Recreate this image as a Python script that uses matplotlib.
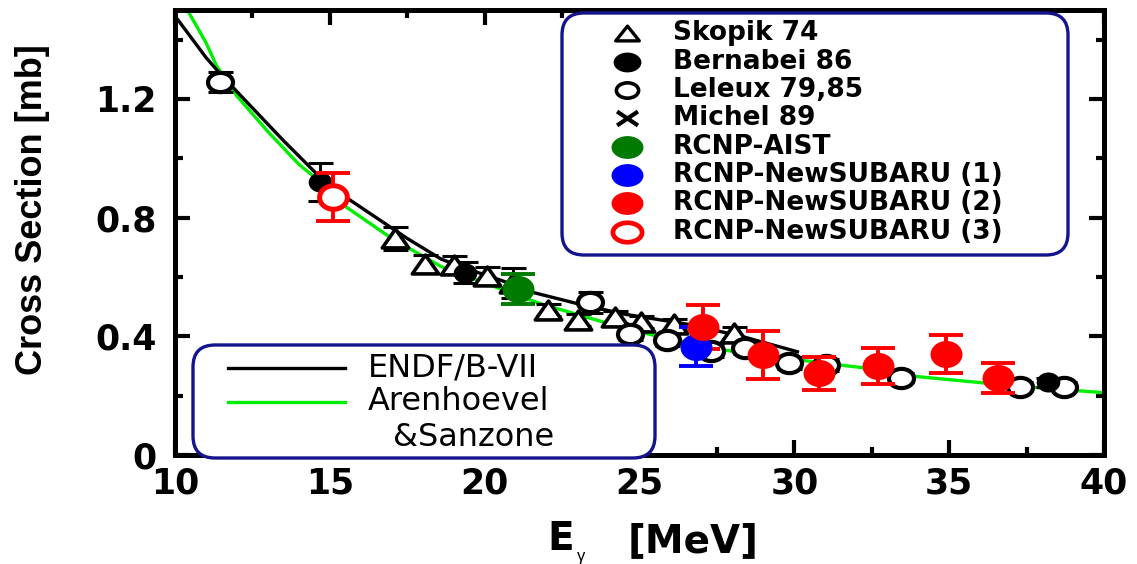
import matplotlib
matplotlib.use("Agg")
import matplotlib.pyplot as plt
from matplotlib.path import Path
from matplotlib.patches import FancyBboxPatch
from matplotlib.lines import Line2D
from matplotlib.transforms import Affine2D
from matplotlib.ticker import MultipleLocator, FuncFormatter

W, H = 1137, 564

# Evaluated / theoretical cross sections
endf_e = [10.0, 10.5, 11.0, 11.5, 12.5, 13.5, 14.6, 15.5, 16.5, 17.5, 18.6,
          19.5, 20.5, 21.6, 23.0, 24.5, 26.6, 28.3, 30.1]
endf_xs = [1.48, 1.41, 1.34, 1.28, 1.17, 1.06, 0.945, 0.87, 0.80, 0.73, 0.66,
           0.625, 0.59, 0.547, 0.51, 0.475, 0.44, 0.40, 0.348]

arenh_e = [10.4, 11.0, 11.35, 12.0, 13.0, 14.0, 14.5, 15.5, 17.0, 18.6, 20.0,
           21.8, 24.1, 25.4, 27.7, 30.0, 32.3, 34.0, 37.0, 40.0]
arenh_xs = [1.50, 1.39, 1.31, 1.21, 1.09, 0.98, 0.937, 0.838, 0.73, 0.635,
            0.58, 0.51, 0.44, 0.405, 0.354, 0.322, 0.293, 0.264, 0.234, 0.21]

# Measurements: photon energy [MeV], cross section [mb], uncertainty [mb]
skopik_e = [17.1, 18.06, 19.0, 20.06, 20.9, 22.06, 23.03, 24.2, 25.06, 26.1, 28.06]
skopik_xs = [0.73, 0.645, 0.64, 0.605, 0.58, 0.49, 0.455, 0.466, 0.449, 0.44, 0.41]
skopik_err = [0.04, 0.03, 0.03, 0.03, 0.05, 0.02, 0.02, 0.02, 0.02, 0.02, 0.02]

bern_e = [14.68, 19.35, 38.2]
bern_xs = [0.92, 0.615, 0.245]
bern_err = [0.065, 0.035, 0.015]

leleux_e = [11.45, 23.4, 24.7, 25.9, 27.3, 28.4, 29.84, 31.03, 33.45, 37.3, 38.7]
leleux_xs = [1.257, 0.515, 0.407, 0.388, 0.35, 0.362, 0.31, 0.303, 0.26, 0.23, 0.23]
leleux_err = [0.035, 0.035, 0.02, 0.02, 0.02, 0.02, 0.02, 0.02, 0.015, 0.015, 0.015]

aist_e = [21.07]
aist_xs = [0.56]
aist_err = [0.05]

ns1_e = [26.84]
ns1_xs = [0.365]
ns1_err = [0.065]

ns2_e = [27.06, 29.0, 30.8, 32.7, 34.9, 36.58]
ns2_xs = [0.432, 0.337, 0.275, 0.30, 0.34, 0.26]
ns2_err = [0.074, 0.08, 0.055, 0.06, 0.065, 0.05]

ns3_e = [15.1]
ns3_xs = [0.87]
ns3_err = [0.08]

legend_labels = ["Skopik 74", "Bernabei 86", "Leleux 79,85", "Michel 89",
                 "RCNP-AIST", "RCNP-NewSUBARU (1)", "RCNP-NewSUBARU (2)",
                 "RCNP-NewSUBARU (3)"]
curve_labels = ["ENDF/B-VII", "Arenhoevel", "&Sanzone"]

WIDE = ["DejaVu Sans"]
SANS = ["Liberation Sans", "DejaVu Sans"]
NAVY = "#14148c"
LIME = "#00ee00"


def ellipse(ratio):
    return Path.unit_circle().transformed(Affine2D().scale(ratio, 1.0))


def flat_triangle(ratio):
    return Path([(0, 1), (-ratio, -1), (ratio, -1), (0, 1)],
                [Path.MOVETO, Path.LINETO, Path.LINETO, Path.CLOSEPOLY])


def flat_cross(ratio):
    return Path([(-ratio, -1), (ratio, 1), (-ratio, 1), (ratio, -1)],
                [Path.MOVETO, Path.LINETO, Path.MOVETO, Path.LINETO])


fig = plt.figure(figsize=(W / 100, H / 100), dpi=100)
ax = fig.add_axes([175 / W, 1 - 455 / H, (1104 - 175) / W, (455 - 10) / H])
px = Affine2D().scale(1 / W, -1 / H).translate(0, 1) + fig.transFigure

ax.plot(arenh_e, arenh_xs, color=LIME, lw=2.4, zorder=2)
ax.plot(endf_e, endf_xs, color="black", lw=2.4, zorder=2)

tri = flat_triangle(1.4)
ell_open = ellipse(1.3)
ell = ellipse(1.18)

ax.errorbar(skopik_e, skopik_xs, yerr=skopik_err, fmt="none", ecolor="black",
            elinewidth=2.2, capsize=9, capthick=2.2, zorder=3)
ax.plot(skopik_e, skopik_xs, ls="none", marker=tri, ms=19, mfc="white",
        mec="black", mew=2.6, zorder=4)

ax.errorbar(leleux_e, leleux_xs, yerr=leleux_err, fmt="none", ecolor="black",
            elinewidth=2.2, capsize=9, capthick=2.2, zorder=3)
ax.plot(leleux_e, leleux_xs, ls="none", marker=ell_open, ms=18, mfc="white",
        mec="black", mew=3.0, zorder=4)

ax.errorbar(bern_e, bern_xs, yerr=bern_err, fmt="none", ecolor="black",
            elinewidth=2.2, capsize=9, capthick=2.2, zorder=3)
ax.plot(bern_e, bern_xs, ls="none", marker=ell, ms=17, mfc="black",
        mec="black", mew=0, zorder=4)

for e, s, err, col in [(aist_e, aist_xs, aist_err, "#007a00"),
                       (ns1_e, ns1_xs, ns1_err, "#0000ff"),
                       (ns2_e, ns2_xs, ns2_err, "#ff0000")]:
    ax.errorbar(e, s, yerr=err, fmt="none", ecolor=col, elinewidth=2.8,
                capsize=12, capthick=2.8, zorder=5)
    ax.plot(e, s, ls="none", marker=ell, ms=23, mfc=col, mec=col, mew=0,
            zorder=6)

ax.errorbar(ns3_e, ns3_xs, yerr=ns3_err, fmt="none", ecolor="#ff0000",
            elinewidth=2.8, capsize=12, capthick=2.8, zorder=5)
ax.plot(ns3_e, ns3_xs, ls="none", marker=ell, ms=20, mfc="white",
        mec="#ff0000", mew=3.6, zorder=6)

ax.set_xlim(10, 40)
ax.set_ylim(0, 1.5)
ax.xaxis.set_major_locator(MultipleLocator(5))
ax.xaxis.set_minor_locator(MultipleLocator(2.5))
ax.yaxis.set_major_locator(MultipleLocator(0.4))
ax.yaxis.set_minor_locator(MultipleLocator(0.2))
ax.yaxis.set_major_formatter(FuncFormatter(lambda v, p: "0" if abs(v) < 1e-9 else f"{v:.1f}"))
ax.tick_params(which="both", direction="in", top=True, right=True, width=3.0)
ax.tick_params(which="major", length=11)
ax.tick_params(which="minor", length=6)
ax.tick_params(axis="y", which="major", pad=13)
ax.tick_params(axis="x", which="major", pad=8)
for sp in ax.spines.values():
    sp.set_linewidth(3.6)
for lab in ax.get_xticklabels() + ax.get_yticklabels():
    lab.set_family(WIDE)
    lab.set_fontweight("bold")
    lab.set_fontsize(25)

# axis titles
fig.text(33 / W, 1 - 210 / H, "Cross Section [mb]", rotation=90, ha="center",
         va="center", family=SANS, weight="bold", fontsize=26)
fig.text(547 / W, 1 - 539 / H, "E", ha="left", va="center", family=WIDE,
         weight="bold", fontsize=28)
fig.text(577 / W, 1 - 556 / H, "\u03b3", ha="left", va="center", family=SANS,
         fontsize=12)
fig.text(628 / W, 1 - 541 / H, "[MeV]", ha="left", va="center", family=WIDE,
         weight="bold", fontsize=28)

# data legend
fig.add_artist(FancyBboxPatch((562, 13), 506, 242,
                              boxstyle="round,pad=0,rounding_size=22",
                              transform=px, fc="white", ec=NAVY, lw=2.4,
                              zorder=10))
row_y = [33, 62, 90, 118, 147, 175, 203, 232]
styles = [
    dict(marker=flat_triangle(1.6), ms=17, mfc="white", mec="black", mew=2.4),
    dict(marker=ellipse(1.4), ms=20, mfc="black", mec="black", mew=0),
    dict(marker=ellipse(1.45), ms=16, mfc="white", mec="black", mew=2.6),
    dict(marker=flat_cross(1.5), ms=15, mfc="none", mec="black", mew=3.0),
    dict(marker=ellipse(1.4), ms=23, mfc="#007a00", mec="#007a00", mew=0),
    dict(marker=ellipse(1.4), ms=23, mfc="#0000ff", mec="#0000ff", mew=0),
    dict(marker=ellipse(1.4), ms=23, mfc="#ff0000", mec="#ff0000", mew=0),
    dict(marker=ellipse(1.5), ms=21, mfc="white", mec="#ff0000", mew=3.4),
]
for y, lab, st in zip(row_y, legend_labels, styles):
    fig.add_artist(Line2D([627], [y], transform=px, ls="none", zorder=11, **st))
    fig.text(673 / W, 1 - y / H, lab, ha="left", va="center", family=WIDE,
             weight="bold", fontsize=19, zorder=11)

# curve legend
fig.add_artist(FancyBboxPatch((193, 345), 462, 113,
                              boxstyle="round,pad=0,rounding_size=22",
                              transform=px, fc="white", ec=NAVY, lw=2.4,
                              zorder=10))
fig.add_artist(Line2D([228, 345], [368, 368], transform=px, color="black",
                      lw=2.4, zorder=11))
fig.add_artist(Line2D([228, 345], [402, 402], transform=px, color=LIME,
                      lw=2.4, zorder=11))
for (x, y), lab in zip([(368, 368), (368, 402), (393, 437)], curve_labels):
    fig.text(x / W, 1 - y / H, lab, ha="left", va="center", family=WIDE,
             fontsize=23, zorder=11)

fig.savefig("out.png", dpi=100)
